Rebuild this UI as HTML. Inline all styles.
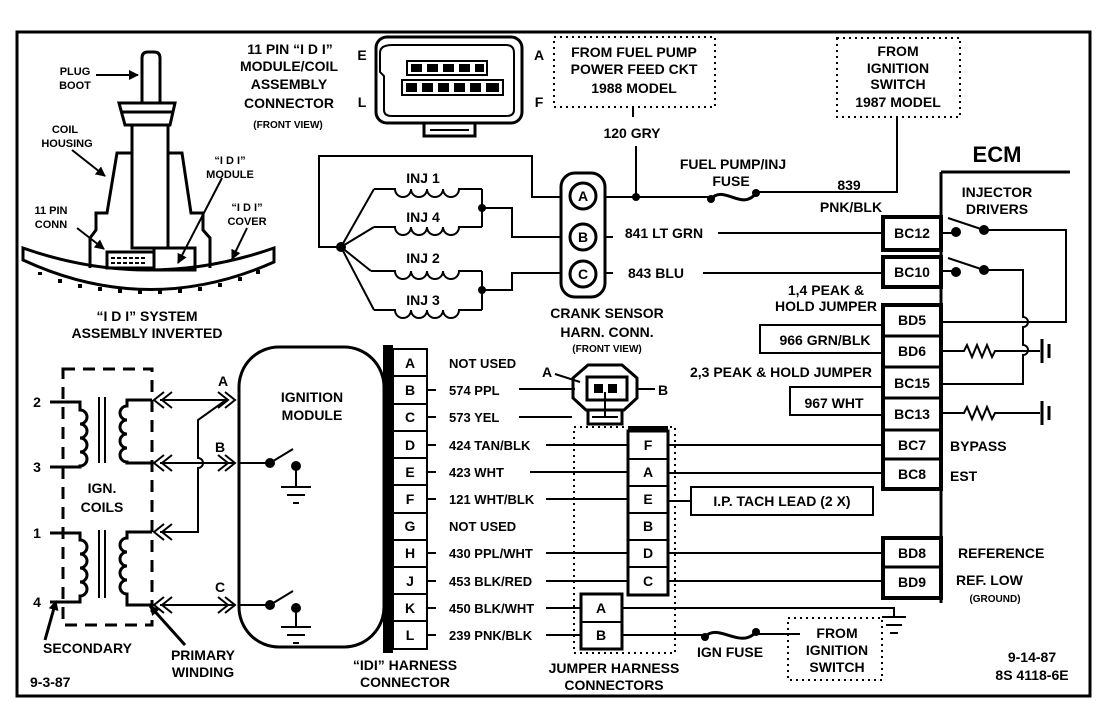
<!DOCTYPE html>
<html><head><meta charset="utf-8"><style>
html,body{margin:0;padding:0;background:#fff}
svg{display:block}
text{font-family:"Liberation Sans",sans-serif;font-weight:bold;font-size:14px;fill:#000}
.s{font-size:10px}
.m{text-anchor:middle}
.w{font-size:13px}
</style></head><body>
<svg width="1104" height="704" viewBox="0 0 1104 704" xmlns="http://www.w3.org/2000/svg">
<defs>
<marker id="ah" markerWidth="10" markerHeight="10" refX="9" refY="5" orient="auto" markerUnits="userSpaceOnUse"><path d="M0,0 L10,5 L0,10 Z" fill="#000"/></marker>
</defs>
<g fill="none" stroke="#000" stroke-width="2">
<rect x="17" y="32" width="1073" height="664" stroke-width="3"/>

<path d="M142,103 V58 Q142,52 148,52 H154 Q160,52 160,58 V103" stroke-width="3"/>
<path d="M119,103 H175 L170,125 H125 Z M122,112 H172" stroke-width="3"/>
<rect x="132" y="125" width="36" height="123" stroke-width="3"/>
<path d="M132,153 H117 L107,213 H96 V230 L90,238 V268" stroke-width="3"/>
<path d="M168,153 H182 L191,213 H203 V230 L210,238 V268" stroke-width="3"/>
<path d="M23,248 Q148,292 274,248 V262 Q148,318 23,260 Z" stroke-width="3"/>
<path d="M40,272 v3 M60,279 v4 M80,284 v4 M100,287 v4 M120,289 v4 M140,290 v4 M160,290 v4 M180,289 v4 M200,287 v4 M220,283 v4 M240,277 v4 M258,270 v4" stroke-width="4"/>
<rect x="107" y="252" width="47" height="16" stroke-width="3"/>
<path d="M111,258 h36 M111,263 h36" stroke-dasharray="4,2" stroke-width="2"/>
<rect x="154" y="248" width="41" height="22" stroke-width="3"/>
<path d="M96,75 H138" marker-end="url(#ah)"/>
<path d="M72,150 L105,176" marker-end="url(#ah)"/>
<path d="M222,178 L178,263" marker-end="url(#ah)"/>
<path d="M77,228 L104,249" marker-end="url(#ah)"/>
<path d="M247,228 L232,259" marker-end="url(#ah)"/>

<rect x="376" y="37" width="146" height="86" rx="11" stroke-width="3"/>
<path d="M392,45 H506 Q514,45 514,53 V110 Q514,116 506,116 H392 Q384,116 384,110 V76 L380,72 V53 Q380,45 392,45 Z" stroke-width="2"/>
<rect x="407" y="61" width="80" height="14" stroke-width="2"/>
<rect x="402" y="80" width="101" height="15" stroke-width="2"/>
<rect x="424" y="123" width="51" height="13" stroke-width="3"/>
<path d="M430,130 H469" stroke-width="2"/>
</g>
<g fill="#000">
<rect x="411" y="64" width="11" height="8"/><rect x="427" y="64" width="11" height="8"/><rect x="443" y="64" width="11" height="8"/><rect x="459" y="64" width="11" height="8"/><rect x="475" y="64" width="9" height="8"/>
<rect x="406" y="83" width="11" height="9"/><rect x="422" y="83" width="11" height="9"/><rect x="438" y="83" width="11" height="9"/><rect x="454" y="83" width="11" height="9"/><rect x="470" y="83" width="11" height="9"/><rect x="486" y="83" width="13" height="9"/>
</g>

<g fill="none" stroke="#000" stroke-width="2" stroke-dasharray="2,4">
<rect x="554" y="37" width="161" height="70"/>
<rect x="837" y="38" width="123" height="79"/>
<rect x="574" y="427" width="101" height="226"/>
<rect x="788" y="618" width="94" height="62"/>
</g>

<g fill="none" stroke="#000" stroke-width="2">
<path d="M633,107 V117 M636,146 V197"/>
<path d="M897,117 V192 H756"/>
<path d="M605,197 H711"/>
<path d="M711,199 C724,184 742,212 756,193" stroke-width="3"/>
<path d="M562,197 H532 V156 H319 V247 H341"/>
<path d="M341,247 L374,189 M341,247 L374,227 M341,247 L371,271 M341,247 L374,310"/>
<path d="M374,189 H395 a8,8 0 0 0 16,0 a8,8 0 0 0 16,0 a8,8 0 0 0 16,0 a8,8 0 0 0 16,0 H482"/>
<path d="M374,227 H395 a8,8 0 0 0 16,0 a8,8 0 0 0 16,0 a8,8 0 0 0 16,0 a8,8 0 0 0 16,0 H482"/>
<path d="M371,271 H395 a8,8 0 0 0 16,0 a8,8 0 0 0 16,0 a8,8 0 0 0 16,0 a8,8 0 0 0 16,0 H482"/>
<path d="M374,310 H395 a8,8 0 0 0 16,0 a8,8 0 0 0 16,0 a8,8 0 0 0 16,0 a8,8 0 0 0 16,0 H482"/>
<path d="M482,189 V227 M482,271 V310"/>
<path d="M482,208 H512 V237 H562 M482,290 H512 V273 H562"/>
<rect x="561" y="173" width="44" height="124" rx="14" stroke-width="3"/>
<circle cx="583" cy="196" r="13" stroke-width="3"/>
<circle cx="583" cy="237" r="13" stroke-width="3"/>
<circle cx="583" cy="274" r="13" stroke-width="3"/>
<path d="M605,237 H613 M605,273 H613"/>
<path d="M718,233 H883 M703,273 H883"/>

<path d="M941,172 H1070 M941,172 V603" stroke-width="3"/>
<rect x="883" y="217" width="58" height="33" stroke-width="4"/>
<rect x="883" y="257" width="58" height="30" stroke-width="4"/>
<rect x="883" y="305" width="58" height="184" stroke-width="4"/>
<path d="M883,336 H941 M883,367 H941 M883,398 H941 M883,430 H941 M883,459 H941" stroke-width="3"/>
<rect x="883" y="538" width="58" height="60" stroke-width="4"/>
<path d="M883,567 H941" stroke-width="3"/>
<path d="M941,233 H956 M948,218 L984,230 M984,230 H1066 V322 H941"/>
<path d="M941,271 H956 M948,258 L984,270 M984,270 H1023 V317 a5,5 0 0 1 0,10 V345 a5,5 0 0 1 0,10 V384 H941"/>
<path d="M941,351 H964 l3,-6 l5,12 l5,-12 l5,12 l5,-12 l5,12 l3,-6 H1040"/>
<path d="M941,413 H964 l3,-6 l5,12 l5,-12 l5,12 l5,-12 l5,12 l3,-6 H1040"/>
<path d="M1042,339 V363 M1049,344 V358 M1042,401 V425 M1049,406 V420" stroke-width="3"/>
<path d="M883,325 H760 V353 H883 M883,387 H790 V415 H883"/>

<path d="M588,365 H622 L637,378 V398 L624,410 H586 L573,398 V378 Z" stroke-width="3"/>
<rect x="587" y="377" width="40" height="23" stroke-width="3"/>
<rect x="588" y="410" width="34" height="14" stroke-width="3"/>
<path d="M592,417 H618 M605,392 V417"/>
<path d="M555,374 L580,382 M636,389 H655"/>
<path d="M519,389 H575 M519,417 H572"/>

<path d="M427,390 H436 M427,417 H436 M427,445 H436 M427,472 H436 M427,499 H436 M427,553 H436 M427,581 H436 M427,608 H436 M427,635 H436"/>
<path d="M546,445 H628 M530,472 H628 M546,499 H628 M546,553 H628 M546,581 H628 M546,608 H581 M546,635 H581"/>
<path d="M668,445 H883 M668,473 H883 M668,501 H691 M668,553 H883 M668,581 H883"/>
<rect x="691" y="487" width="182" height="28"/>
<path d="M622,608 H894 V617 M882,617 H906 M886,625 H902 M890,633 H898"/>
<path d="M622,635 H705 M756,634 H800"/>
<path d="M705,637 C718,622 740,650 756,632" stroke-width="3"/>
<rect x="628" y="431" width="40" height="164" stroke-width="3"/>
<path d="M628,459 H668 M628,486 H668 M628,513 H668 M628,540 H668 M628,567 H668"/>
<rect x="581" y="594" width="41" height="55" stroke-width="3"/>
<path d="M581,622 H622"/>

<rect x="393" y="349" width="34" height="300" stroke-width="2"/>
<path d="M393,376 H427 M393,404 H427 M393,431 H427 M393,458 H427 M393,485 H427 M393,513 H427 M393,540 H427 M393,567 H427 M393,594 H427 M393,621 H427"/>
<rect x="239" y="347" width="145" height="300" rx="40" stroke-width="3"/>
</g>
<rect x="383" y="345" width="10" height="308" fill="#000"/>

<g fill="none" stroke="#000" stroke-width="2">
<path d="M239,463 H270 L293,449 M296,466 V487 M281,487 H311 M287,495 H305 M293,503 H299"/>
<path d="M239,605 H270 L293,591 M296,608 V627 M281,627 H311 M287,635 H305 M293,643 H299"/>
<rect x="63" y="369" width="89" height="256" stroke-width="3" stroke-dasharray="12,8"/>
<path d="M50,402 H80 V410 a7,7 0 0 1 0,14 a7,7 0 0 1 0,14 a7,7 0 0 1 0,14 a7,7 0 0 1 0,14 V467 H50" stroke-width="3"/>
<path d="M50,533 H80 V540 a7,7 0 0 1 0,14 a7,7 0 0 1 0,14 a7,7 0 0 1 0,14 a7,7 0 0 1 0,14 V602 H50" stroke-width="3"/>
<path d="M99,397 V463 M105,397 V463 M99,530 V598 M105,530 V598"/>
<path d="M152,400 H127 V406 a7,7 0 0 0 0,14 a7,7 0 0 0 0,14 a7,7 0 0 0 0,14 a7,7 0 0 0 0,14 V463 H152" stroke-width="3"/>
<path d="M152,532 H127 V538 a7,7 0 0 0 0,14 a7,7 0 0 0 0,14 a7,7 0 0 0 0,14 a7,7 0 0 0 0,14 V605 H152" stroke-width="3"/>
<path d="M160,400 H226 L198,420 V458 a5,5 0 0 1 0,10 V532 H160"/>
<path d="M160,463 H235 M160,605 H235"/>
<path d="M164,392 L154,400 L164,408 M172,392 L162,400 L172,408"/>
<path d="M164,455 L154,463 L164,471 M172,455 L162,463 L172,471"/>
<path d="M164,524 L154,532 L164,540 M172,524 L162,532 L172,540"/>
<path d="M164,597 L154,605 L164,613 M172,597 L162,605 L172,613"/>
<path d="M225,392 L235,400 L225,408 M218,392 L228,400 L218,408"/>
<path d="M225,455 L235,463 L225,471 M218,455 L228,463 L218,471"/>
<path d="M225,597 L235,605 L225,613 M218,597 L228,605 L218,613"/>
<path d="M45,640 L56,601" stroke-width="3" marker-end="url(#ah)"/>
<path d="M185,645 L150,606" stroke-width="3" marker-end="url(#ah)"/>
</g>
<g fill="#000">
<circle cx="636" cy="197" r="4"/><circle cx="711" cy="199" r="4"/><circle cx="756" cy="193" r="4"/>
<circle cx="341" cy="247" r="5"/><circle cx="482" cy="208" r="4"/><circle cx="482" cy="290" r="4"/>
<circle cx="956" cy="232" r="5"/><circle cx="984" cy="230" r="5"/><circle cx="956" cy="272" r="5"/><circle cx="984" cy="270" r="5"/>
<circle cx="270" cy="463" r="5"/><circle cx="296" cy="466" r="5"/><circle cx="270" cy="605" r="5"/><circle cx="296" cy="608" r="5"/>
<circle cx="705" cy="637" r="4"/><circle cx="756" cy="632" r="4"/>
<rect x="594" y="384" width="9" height="9"/><rect x="608" y="384" width="9" height="9"/>
<rect x="628" y="426" width="40" height="5"/>
</g>

<text x="75" y="75" class="m" style="font-size:11px">PLUG</text>
<text x="75" y="89" class="m" style="font-size:11px">BOOT</text>
<text x="65" y="133" class="m" style="font-size:11px">COIL</text>
<text x="67" y="147" class="m" style="font-size:11px">HOUSING</text>
<text x="230" y="164" class="m" style="font-size:11px">“I D I”</text>
<text x="230" y="178" class="m" style="font-size:11px">MODULE</text>
<text x="51" y="214" class="m" style="font-size:11px">11 PIN</text>
<text x="51" y="228" class="m" style="font-size:11px">CONN</text>
<text x="247" y="211" class="m" style="font-size:11px">“I D I”</text>
<text x="247" y="225" class="m" style="font-size:11px">COVER</text>
<text x="147" y="321" class="m">“I D I” SYSTEM</text>
<text x="147" y="338" class="m">ASSEMBLY INVERTED</text>

<text x="290" y="54" class="m">11 PIN “I D I”</text>
<text x="289" y="71" class="m">MODULE/COIL</text>
<text x="289" y="89" class="m">ASSEMBLY</text>
<text x="289" y="108" class="m">CONNECTOR</text>
<text x="288" y="128" class="m s">(FRONT VIEW)</text>
<text x="362" y="60" class="m">E</text>
<text x="362" y="107" class="m">L</text>
<text x="539" y="60" class="m">A</text>
<text x="539" y="107" class="m">F</text>

<text x="634" y="57" class="m">FROM FUEL PUMP</text>
<text x="634" y="74" class="m">POWER FEED CKT</text>
<text x="634" y="93" class="m">1988 MODEL</text>
<text x="632" y="138" class="m">120 GRY</text>
<text x="898" y="56" class="m">FROM</text>
<text x="898" y="73" class="m">IGNITION</text>
<text x="898" y="89" class="m">SWITCH</text>
<text x="898" y="107" class="m">1987 MODEL</text>

<text x="423" y="183" class="m">INJ 1</text>
<text x="423" y="222" class="m">INJ 4</text>
<text x="423" y="263" class="m">INJ 2</text>
<text x="423" y="305" class="m">INJ 3</text>
<text x="583" y="201" class="m">A</text>
<text x="583" y="242" class="m">B</text>
<text x="583" y="279" class="m">C</text>
<text x="607" y="318" class="m">CRANK SENSOR</text>
<text x="607" y="337" class="m">HARN. CONN.</text>
<text x="607" y="352" class="m s">(FRONT VIEW)</text>
<text x="547" y="377" class="m">A</text>
<text x="663" y="395" class="m">B</text>

<text x="733" y="169" class="m">FUEL PUMP/INJ</text>
<text x="731" y="186" class="m">FUSE</text>
<text x="849" y="190" class="m">839</text>
<text x="851" y="212" class="m">PNK/BLK</text>
<text x="664" y="238" class="m">841 LT GRN</text>
<text x="656" y="278" class="m">843 BLU</text>

<text x="997" y="162" class="m" style="font-size:22px">ECM</text>
<text x="997" y="197" class="m">INJECTOR</text>
<text x="997" y="214" class="m">DRIVERS</text>
<text x="912" y="238" class="m">BC12</text>
<text x="912" y="277" class="m">BC10</text>
<text x="912" y="325" class="m">BD5</text>
<text x="912" y="356" class="m">BD6</text>
<text x="912" y="388" class="m">BC15</text>
<text x="912" y="419" class="m">BC13</text>
<text x="912" y="450" class="m">BC7</text>
<text x="912" y="479" class="m">BC8</text>
<text x="912" y="558" class="m">BD8</text>
<text x="912" y="587" class="m">BD9</text>
<text x="826" y="295" class="m">1,4 PEAK &amp;</text>
<text x="826" y="311" class="m">HOLD JUMPER</text>
<text x="825" y="345" class="m">966 GRN/BLK</text>
<text x="781" y="377" class="m">2,3 PEAK &amp; HOLD JUMPER</text>
<text x="834" y="408" class="m">967 WHT</text>
<text x="950" y="451">BYPASS</text>
<text x="950" y="481">EST</text>
<text x="958" y="558">REFERENCE</text>
<text x="956" y="585">REF. LOW</text>
<text x="995" y="602" class="m s">(GROUND)</text>
<text x="782" y="506" class="m">I.P. TACH LEAD (2 X)</text>

<text x="648" y="450" class="m">F</text>
<text x="648" y="477" class="m">A</text>
<text x="648" y="504" class="m">E</text>
<text x="648" y="531" class="m">B</text>
<text x="648" y="558" class="m">D</text>
<text x="648" y="586" class="m">C</text>
<text x="601" y="613" class="m">A</text>
<text x="601" y="640" class="m">B</text>
<text x="730" y="657" class="m">IGN FUSE</text>
<text x="837" y="638" class="m">FROM</text>
<text x="837" y="655" class="m">IGNITION</text>
<text x="837" y="672" class="m">SWITCH</text>
<text x="614" y="673" class="m">JUMPER HARNESS</text>
<text x="614" y="690" class="m">CONNECTORS</text>
<text x="1032" y="662" class="m">9-14-87</text>
<text x="1032" y="680" class="m">8S 4118-6E</text>

<text x="410" y="368" class="m">A</text>
<text x="410" y="395" class="m">B</text>
<text x="410" y="422" class="m">C</text>
<text x="410" y="450" class="m">D</text>
<text x="410" y="477" class="m">E</text>
<text x="410" y="504" class="m">F</text>
<text x="410" y="531" class="m">G</text>
<text x="410" y="558" class="m">H</text>
<text x="410" y="586" class="m">J</text>
<text x="410" y="613" class="m">K</text>
<text x="410" y="640" class="m">L</text>
<text x="449" y="368" class="w">NOT USED</text>
<text x="449" y="395" class="w">574 PPL</text>
<text x="449" y="422" class="w">573 YEL</text>
<text x="449" y="450" class="w">424 TAN/BLK</text>
<text x="449" y="477" class="w">423 WHT</text>
<text x="449" y="504" class="w">121 WHT/BLK</text>
<text x="449" y="531" class="w">NOT USED</text>
<text x="449" y="558" class="w">430 PPL/WHT</text>
<text x="449" y="586" class="w">453 BLK/RED</text>
<text x="449" y="613" class="w">450 BLK/WHT</text>
<text x="449" y="640" class="w">239  PNK/BLK</text>
<text x="405" y="670" class="m">“IDI” HARNESS</text>
<text x="405" y="687" class="m">CONNECTOR</text>

<text x="312" y="402" class="m">IGNITION</text>
<text x="312" y="420" class="m">MODULE</text>
<text x="102" y="493" class="m">IGN.</text>
<text x="102" y="512" class="m">COILS</text>
<text x="37" y="407" class="m">2</text>
<text x="37" y="472" class="m">3</text>
<text x="37" y="538" class="m">1</text>
<text x="37" y="607" class="m">4</text>
<text x="223" y="386" class="m">A</text>
<text x="220" y="452" class="m">B</text>
<text x="220" y="592" class="m">C</text>
<text x="43" y="653">SECONDARY</text>
<text x="203" y="660" class="m">PRIMARY</text>
<text x="203" y="677" class="m">WINDING</text>
<text x="30" y="687">9-3-87</text>
</svg>
</body></html>
